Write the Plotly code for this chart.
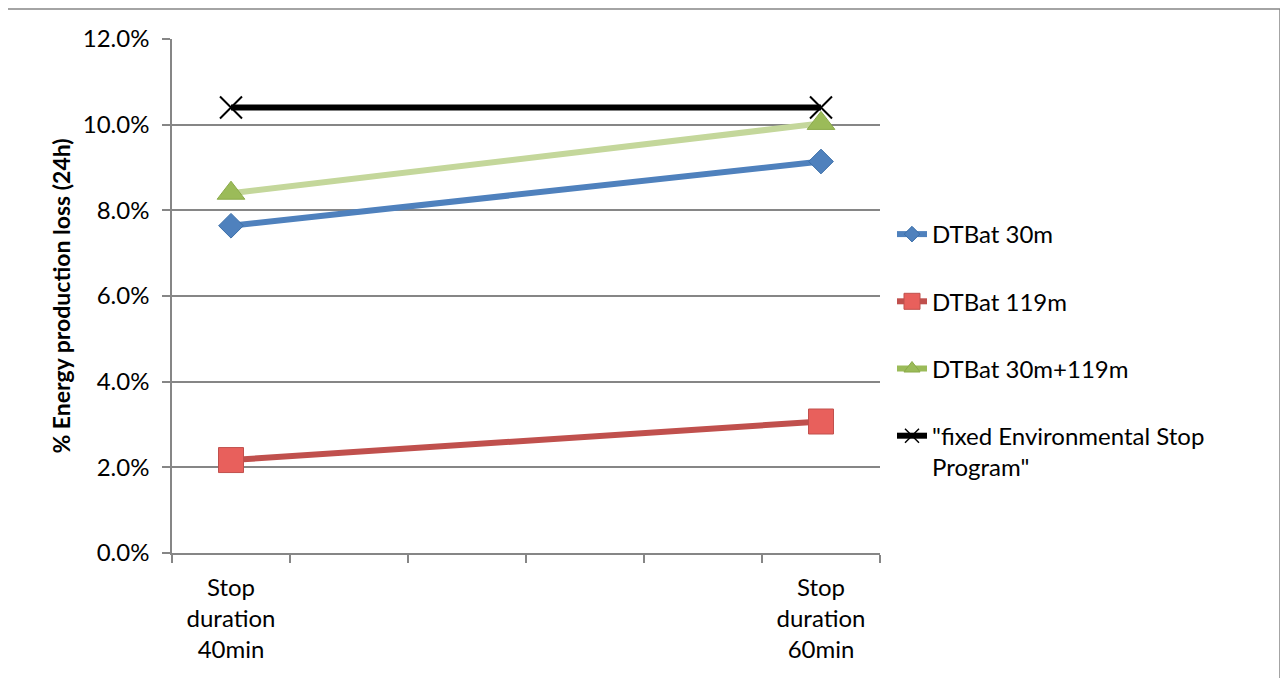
import plotly.graph_objects as go

categories = ["Stop<br>duration<br>40min", "", "", "", "", "Stop<br>duration<br>60min"]
cat_pos = [0, 5]  # positions of the two filled categories
series_names = ["DTBat 30m", "DTBat 119m", "DTBat 30m+119m", "\"fixed Environmental Stop<br>Program\""]
dtbat_30m = [0.0764, 0.0914]
dtbat_119m = [0.0217, 0.0307]
dtbat_30m_119m = [0.0840, 0.1003]
fixed_esp = [0.1040, 0.1040]

y_ticks = [0, 0.02, 0.04, 0.06, 0.08, 0.10, 0.12]

FONT = "Lato"
FS = 24
line_colors = ["#4F81BD", "#C0504D", "#C4D79B", "#000000"]
legend_colors = ["#4F81BD", "#C0504D", "#9BBB59", "#000000"]
marker_cfg = [
    dict(symbol="diamond", size=19, color="#4F81BD", line=dict(color="#3A6EA8", width=1)),
    dict(symbol="square", size=25, color="#E8605C", line=dict(color="#C0504D", width=1)),
    dict(symbol="triangle-up", size=24, color="#9BBB59", line=dict(color="#8AAA48", width=1)),
    dict(symbol="x-thin", size=22, color="#000000", line=dict(color="#000000", width=2)),
]
legend_marker_cfg = [
    dict(symbol="diamond", size=12, color="#4F81BD", line=dict(color="#3A6EA8", width=1)),
    dict(symbol="square", size=16, color="#E8605C", line=dict(color="#C0504D", width=1)),
    dict(symbol="triangle-up", size=14, color="#9BBB59", line=dict(color="#8AAA48", width=1)),
    dict(symbol="x-thin", size=14, color="#000000", line=dict(color="#000000", width=1.5)),
]

values = [dtbat_30m, dtbat_119m, dtbat_30m_119m, fixed_esp]

fig = go.Figure()
for name, vals, lc, mk in zip(series_names, values, line_colors, marker_cfg):
    fig.add_trace(go.Scatter(
        x=cat_pos, y=vals, mode="lines+markers", name=name, showlegend=False,
        line=dict(color=lc, width=6), marker=mk, hoverinfo="skip",
    ))
for i, (name, lc, mk) in enumerate(zip(series_names, legend_colors, legend_marker_cfg)):
    fig.add_trace(go.Scatter(
        x=[None], y=[None], mode="lines+markers", name=name, legendgroup=f"g{i}",
        line=dict(color=lc, width=6), marker=mk,
    ))

# page body has an 8px margin: figure is 1280x670 placed at (8, 8)
fig.update_layout(
    width=1280, height=670,
    margin=dict(l=164, r=408, t=31, b=125),
    paper_bgcolor="white", plot_bgcolor="white",
    font=dict(family=FONT, size=FS, color="#000000"),
    showlegend=True,
    legend=dict(
        x=(892 - 172) / 708, y=(553 - 212) / 514, xanchor="left", yanchor="top",
        font=dict(family=FONT, size=FS, color="#000000"),
        traceorder="grouped", tracegroupgap=33, valign="top",
        bgcolor="rgba(0,0,0,0)",
    ),
    xaxis=dict(
        range=[-0.5, 5.5], tickmode="array", tickvals=cat_pos,
        ticktext=[categories[0], categories[5]], ticks="",
        ticklabelstandoff=12,
        showgrid=False, zeroline=False,
        showline=True, linecolor="#868686", linewidth=1.5,
        tickfont=dict(family=FONT, size=FS),
        minor=dict(tickmode="linear", tick0=-0.5, dtick=1, ticks="outside",
                   ticklen=8, tickcolor="#868686", tickwidth=1.5, showgrid=False),
        fixedrange=True,
    ),
    yaxis=dict(
        range=[0, 0.12], tickmode="array", tickvals=y_ticks, tickformat=".1%",
        showgrid=True, gridcolor="#868686", gridwidth=1.5,
        zeroline=False, showline=True, linecolor="#868686", linewidth=1.5,
        ticks="outside", ticklen=8, tickcolor="#868686", tickwidth=1.5,
        ticklabelstandoff=8,
        tickfont=dict(family=FONT, size=FS),
        title=dict(text="<b>% Energy production loss (24h)</b>",
                   font=dict(family=FONT, size=23), standoff=6),
        fixedrange=True,
    ),
    shapes=[dict(
        type="rect", xref="paper", yref="paper",
        x0=(7 - 172) / 708, x1=(1280 - 172) / 708,
        y0=(553 - 700) / 514, y1=(553 - 9) / 514,
        line=dict(color="#868686", width=1.5), fillcolor="rgba(0,0,0,0)", layer="below",
    )],
)

fig.write_html("out.html")
